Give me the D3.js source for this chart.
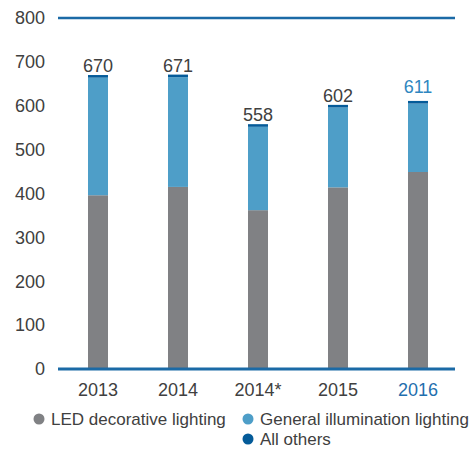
<!DOCTYPE html>
<html>
<head>
<meta charset="utf-8">
<script src="https://cdn.jsdelivr.net/npm/d3@7"></script>
<style>
  body { margin: 0; background: #fff; }
  text { font-family: "Liberation Sans", Arial, sans-serif; }
</style>
</head>
<body>
<script>
const years    = ['2013', '2014', '2014*', '2015', '2016'],
      led      = [396, 415, 362, 414, 449],
      general  = [268, 250, 190, 182, 156],
      others   = [6, 6, 6, 6, 6],
      yTicks   = [0, 100, 200, 300, 400, 500, 600, 700, 800],
      series   = ['LED decorative lighting', 'General illumination lighting', 'All others'],
      colors   = ['#808184', '#4e9ec8', '#045b99'];

const width     = 472,
      height    = 452,
      highlight = '2016',
      textColor = '#404040';

const svg = d3.select('body').append('svg')
  .attr('width', width)
  .attr('height', height);

const x = d3.scaleBand().domain(years).range([58, 458]).paddingInner(0.75).paddingOuter(0.375);
const y = d3.scaleLinear().domain([0, 800]).range([369, 18]);

const rows = years.map((yr, i) => ({ year: yr, led: led[i], general: general[i], others: others[i] }));
const stacked = d3.stack().keys(['led', 'general', 'others'])(rows);

// bars
svg.append('g').selectAll('g')
  .data(stacked)
  .join('g')
    .attr('fill', (d, i) => colors[i])
  .selectAll('rect')
  .data(d => d)
  .join('rect')
    .attr('x', d => x(d.data.year))
    .attr('width', x.bandwidth())
    .attr('y', d => y(d[1]))
    .attr('height', d => y(d[0]) - y(d[1]));

// top and bottom rules
svg.append('g')
  .selectAll('line')
  .data([0, 800])
  .join('line')
    .attr('x1', 58).attr('x2', 455)
    .attr('y1', d => y(d)).attr('y2', d => y(d))
    .attr('stroke', '#1b6aa6')
    .attr('stroke-width', d => d === 0 ? 3 : 2.5);

// y axis labels
const yAxis = svg.append('g')
  .attr('transform', 'translate(45,0)')
  .call(d3.axisLeft(y).tickValues(yTicks).tickSize(0).tickPadding(0));
yAxis.select('.domain').remove();
yAxis.selectAll('text')
  .attr('font-size', 18)
  .attr('fill', textColor)
  .attr('font-family', '"Liberation Sans", Arial, sans-serif');

// x axis labels
const xAxis = svg.append('g')
  .attr('transform', 'translate(0,369)')
  .call(d3.axisBottom(x).tickSize(0).tickPadding(14));
xAxis.select('.domain').remove();
xAxis.selectAll('text')
  .attr('font-size', 18)
  .attr('fill', d => d === highlight ? '#1f6fae' : textColor)
  .attr('font-family', '"Liberation Sans", Arial, sans-serif');

// totals
svg.append('g')
  .selectAll('text')
  .data(rows)
  .join('text')
    .attr('x', d => x(d.year) + x.bandwidth() / 2)
    .attr('y', d => y(d.led + d.general + d.others) - (d.year === highlight ? 8 : 3))
    .attr('text-anchor', 'middle')
    .attr('font-size', 18)
    .attr('fill', d => d.year === highlight ? '#2f86c0' : textColor)
    .text(d => d.led + d.general + d.others);

// legend
const legendPos = [[39, 419], [248, 419], [248, 439]];
const legend = svg.append('g')
  .selectAll('g')
  .data(series)
  .join('g')
    .attr('transform', (d, i) => `translate(${legendPos[i][0]},${legendPos[i][1]})`);

legend.append('circle')
  .attr('r', 5.5)
  .attr('fill', (d, i) => colors[i]);

legend.append('text')
  .attr('x', 12)
  .attr('dy', '0.36em')
  .attr('font-size', 17)
  .attr('fill', textColor)
  .text(d => d);
</script>
</body>
</html>
